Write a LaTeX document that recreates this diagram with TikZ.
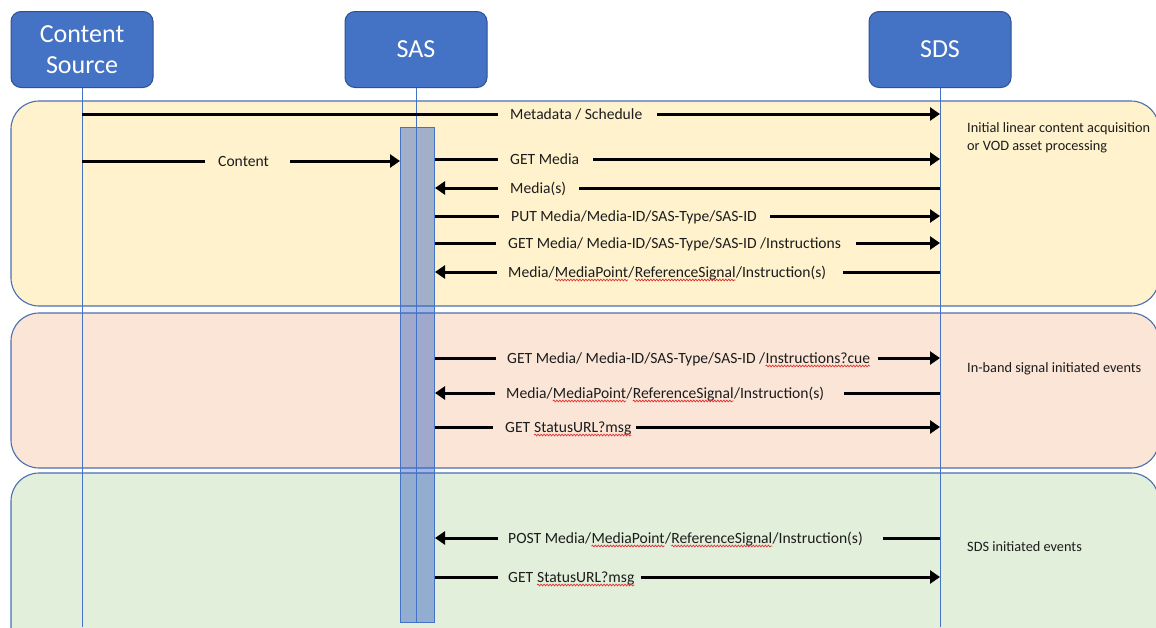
\documentclass[tikz,border=0pt]{standalone}
\usepackage{fontspec}
\setmainfont{Carlito}
\usetikzlibrary{arrows.meta,decorations.pathmorphing}
\definecolor{hdrfill}{HTML}{4472C4}
\definecolor{hdrdraw}{HTML}{2F528F}
\definecolor{bandline}{HTML}{4A6EB0}
\definecolor{yel}{HTML}{FFF2CC}
\definecolor{pnk}{HTML}{FBE5D6}
\definecolor{grn}{HTML}{E2EFDA}
\definecolor{life}{HTML}{4472C4}
\definecolor{barfill}{RGB}{47,95,196}
\definecolor{txt}{HTML}{1C1C1C}
\definecolor{wavered}{HTML}{E03030}
\newcommand\sqw[1]{\tikz[baseline=(sqwt.base)]{\node[inner sep=0pt,outer sep=0pt,anchor=base west] (sqwt) at (0,0) {#1};
 \draw[wavered, line width=0.7pt, decorate, decoration={snake,amplitude=0.9pt,segment length=3pt}] ([yshift=-3pt]sqwt.base west) -- ([yshift=-3pt]sqwt.base east);}}
\begin{document}
\begin{tikzpicture}[x=1pt,y=-1pt,
 header/.style={draw=hdrdraw, line width=1pt, fill=hdrfill, rounded corners=10pt, minimum width=142pt, minimum height=76pt, text=white, font=\fontsize{26}{31}\selectfont, align=center, inner sep=0},
 band/.style={draw=bandline, line width=1.1pt, rounded corners=28pt},
 lifeline/.style={draw=life, line width=1pt},
 msg/.style={draw=black, line width=3pt},
 msgarrow/.style={msg, -{Triangle[length=10pt,width=13pt]}},
 lbl/.style={anchor=base west, inner sep=0, text=txt, font=\fontsize{15.6}{18}\selectfont},
 note/.style={anchor=north west, inner sep=0, text=txt, align=left, font=\fontsize{14.3}{18}\selectfont},
]
\useasboundingbox (0,0) rectangle (1156,627);
\clip (0,0) rectangle (1156,627);
% bands
\path[band, fill=yel] (11,101) rectangle (1159,306);
\path[band, fill=pnk] (11,313) rectangle (1159,468);
\path[band, fill=grn] (11,473) rectangle (1159,660);
% headers
\node[header] (cs) at (82,49.5) {Content\\Source};
\node[header] (sas) at (416,49.5) {SAS};
\node[header] (sds) at (940,49.5) {SDS};
% activation bar
\node[draw=life, line width=1pt, fill=barfill, fill opacity=0.45, minimum width=34pt, minimum height=495pt, inner sep=0, anchor=north west] (bar) at (400,127) {};
% lifelines
\coordinate (bottom) at (0,627);
\draw[lifeline] (cs.south) -- (cs.south |- bottom);
\draw[lifeline] (sas.south) -- (sas.south |- bar.south);
\draw[lifeline] (sds.south) -- (sds.south |- bottom);
% rows
\coordinate (r1) at (0,114);
\coordinate (r2) at (0,161);
\coordinate (r3) at (0,159);
\coordinate (r4) at (0,188);
\coordinate (r5) at (0,216);
\coordinate (r6) at (0,243);
\coordinate (r7) at (0,272);
\coordinate (r8) at (0,358);
\coordinate (r9) at (0,393);
\coordinate (r10) at (0,427);
\coordinate (r11) at (0,538);
\coordinate (r12) at (0,577);
% labels
\node[lbl] (m1) at (510,119) {Metadata / Schedule};
\node[lbl] (m2) at (218,166) {Content};
\node[lbl] (m3) at (510,164) {GET Media};
\node[lbl] (m4) at (510,193) {Media(s)};
\node[lbl] (m5) at (511,221) {PUT Media/Media-ID/SAS-Type/SAS-ID};
\node[lbl] (m6) at (508,248) {GET Media/ Media-ID/SAS-Type/SAS-ID /Instructions};
\node[lbl] (m7) at (508,277) {Media/\sqw{MediaPoint}/\sqw{ReferenceSignal}/Instruction(s)};
\node[lbl] (m8) at (507,363) {GET Media/ Media-ID/SAS-Type/SAS-ID /\sqw{Instructions?cue}};
\node[lbl] (m9) at (506,398) {Media/\sqw{MediaPoint}/\sqw{ReferenceSignal}/Instruction(s)};
\node[lbl] (m10) at (505,432) {GET \sqw{StatusURL?msg}};
\node[lbl] (m11) at (508,543) {POST Media/\sqw{MediaPoint}/\sqw{ReferenceSignal}/Instruction(s)};
\node[lbl] (m12) at (508,582) {GET \sqw{StatusURL?msg}};
% messages
\draw[msg] (cs.south |- r1) -- ([xshift=-12pt]m1.west |- r1);
\draw[msgarrow] ([xshift=15pt]m1.east |- r1) -- (sds.south |- r1);
\draw[msg] (cs.south |- r2) -- ([xshift=-13pt]m2.west |- r2);
\draw[msgarrow] ([xshift=21pt]m2.east |- r2) -- (bar.west |- r2);
\draw[msg] (bar.east |- r3) -- ([xshift=-12pt]m3.west |- r3);
\draw[msgarrow] ([xshift=14pt]m3.east |- r3) -- (sds.south |- r3);
\draw[msgarrow] ([xshift=-12pt]m4.west |- r4) -- (bar.east |- r4);
\draw[msg] (sds.south |- r4) -- ([xshift=13pt]m4.east |- r4);
\draw[msg] (bar.east |- r5) -- ([xshift=-12pt]m5.west |- r5);
\draw[msgarrow] ([xshift=13pt]m5.east |- r5) -- (sds.south |- r5);
\draw[msg] (bar.east |- r6) -- ([xshift=-12pt]m6.west |- r6);
\draw[msgarrow] ([xshift=15pt]m6.east |- r6) -- (sds.south |- r6);
\draw[msgarrow] ([xshift=-11pt]m7.west |- r7) -- (bar.east |- r7);
\draw[msg] (sds.south |- r7) -- ([xshift=17pt]m7.east |- r7);
\draw[msg] (bar.east |- r8) -- ([xshift=-11pt]m8.west |- r8);
\draw[msgarrow] ([xshift=7pt]m8.east |- r8) -- (sds.south |- r8);
\draw[msgarrow] ([xshift=-11pt]m9.west |- r9) -- (bar.east |- r9);
\draw[msg] (sds.south |- r9) -- ([xshift=20pt]m9.east |- r9);
\draw[msg] (bar.east |- r10) -- ([xshift=-12pt]m10.west |- r10);
\draw[msgarrow] ([xshift=4pt]m10.east |- r10) -- (sds.south |- r10);
\draw[msgarrow] ([xshift=-10pt]m11.west |- r11) -- (bar.east |- r11);
\draw[msg] (sds.south |- r11) -- ([xshift=20pt]m11.east |- r11);
\draw[msg] (bar.east |- r12) -- ([xshift=-10pt]m12.west |- r12);
\draw[msgarrow] ([xshift=6pt]m12.east |- r12) -- (sds.south |- r12);
% notes
\node[note] (n1) at (967,122) {Initial linear content acquisition\\or VOD asset processing};
\node[note] (n2) at (967,362) {In-band signal initiated events};
\node[note] (n3) at (967,541) {SDS initiated events};
\end{tikzpicture}
\end{document}
